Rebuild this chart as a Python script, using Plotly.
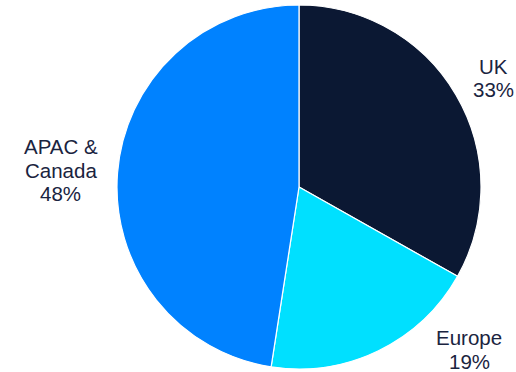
import plotly.graph_objects as go

labels = ["UK", "Europe", "APAC & Canada"]
label_lines = [["UK"], ["Europe"], ["APAC &", "Canada"]]
values = [33.2, 19.3, 47.6]
colors = ["#0B1833", "#00E0FF", "#0082FF"]

W, H = 516, 372
cx, cy, r = 299, 187, 182
# label block: centre x and first baseline (pixels)
label_anchor = [(493, 73.5), (469, 345), (60.5, 154)]
LINE = 23.6
FS = 20.5

fig = go.Figure(go.Pie(
    labels=labels,
    values=values,
    sort=False,
    direction="clockwise",
    rotation=0,
    marker=dict(colors=colors, line=dict(color="white", width=1.2)),
    textinfo="none",
    hoverinfo="label+percent",
    domain=dict(x=[(cx - r) / W, (cx + r) / W], y=[1 - (cy + r) / H, 1 - (cy - r) / H]),
    showlegend=False,
))

total = sum(values)
for lines, v, (px, base) in zip(label_lines, values, label_anchor):
    all_lines = lines + [f"{100 * v / total:.0f}%"]
    for i, t in enumerate(all_lines):
        ypix = base + i * LINE - 7.3
        fig.add_annotation(
            x=px / W, y=1 - ypix / H, xref="paper", yref="paper",
            text=t, showarrow=False, xanchor="center", yanchor="middle",
            font=dict(family="Liberation Sans, Arial", size=FS, color="#1A2440"),
        )

fig.update_layout(
    width=W, height=H,
    margin=dict(l=0, r=0, t=0, b=0),
    paper_bgcolor="white", plot_bgcolor="white",
)

fig.write_html("out.html")
